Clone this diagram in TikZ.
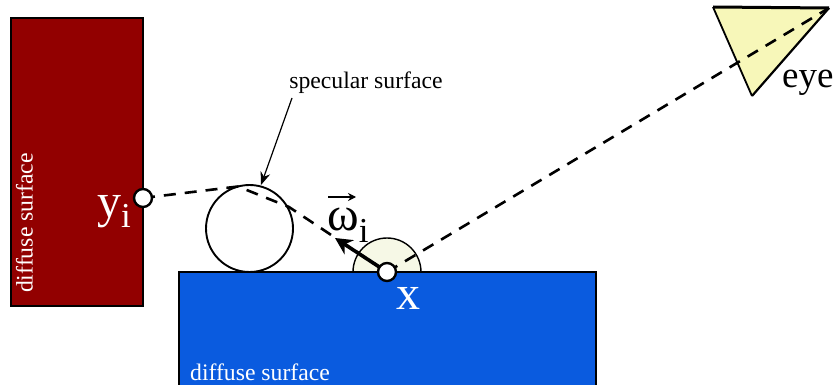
\documentclass[tikz,border=0pt]{standalone}
\usepackage{fontspec}
\setmainfont{Liberation Serif}
\usetikzlibrary{arrows.meta}
\definecolor{wallred}{HTML}{920000}
\definecolor{floorblue}{HTML}{0A5BDF}
\definecolor{eyeyellow}{HTML}{F7F7B9}
\definecolor{domeyellow}{HTML}{F6F8E6}
\tikzset{
  px/.style={x=1pt,y=-1pt},
  surface/.style={draw=black,line width=2.4pt,outer sep=0pt,inner sep=0pt},
  ray/.style={draw=black,line width=2.6pt,dash pattern=on 12pt off 9pt},
  pointmark/.style={circle,draw=black,fill=white,line width=2.4pt,minimum size=18pt,inner sep=0pt},
  whitelabel/.style={text=white,inner sep=0pt},
  blacklabel/.style={text=black,inner sep=0pt},
  smallfont/.style={font=\fontsize{23.7}{26}\selectfont},
  bigfont/.style={font=\fontsize{48}{52}\selectfont}
}
\begin{document}
\begin{tikzpicture}[px]
\useasboundingbox (0,0) rectangle (836,385);
\clip (0,0) rectangle (836,385);
\fill[white] (0,0) rectangle (836,385);
% surfaces
\node[surface,fill=wallred,minimum width=132pt,minimum height=288pt,anchor=north west] (wall) at (11,18) {};
\node[surface,fill=floorblue,minimum width=417pt,minimum height=130pt,anchor=north west] (floor) at (179,272) {};
% hemisphere
\fill[domeyellow] (353,272) arc[start angle=180,end angle=360,radius=34] -- cycle;
\draw[line width=1.4pt] (353,272) arc[start angle=180,end angle=360,radius=34];
\draw[surface] (179,272) -- (596,272);
% sphere
\node[circle,draw=black,fill=white,line width=1.9pt,minimum size=87pt,inner sep=0pt] (sphere) at (249.5,228.5) {};
% eye
\coordinate (eyeA) at (713,7);
\coordinate (eyeB) at (829,8);
\coordinate (eyeC) at (752,96);
\fill[eyeyellow] (eyeA) -- (eyeB) -- (eyeC) -- cycle;
\draw[line width=1.8pt] (eyeC) -- (eyeA);
\draw[line width=2.2pt] (eyeB) -- (eyeC);
\draw[line width=3pt] (eyeA) -- (eyeB);
% rays
\coordinate (kinkA) at (238,186.5);
\coordinate (kinkB) at (289,207);
\coordinate (eyeTip) at (829,8);
\coordinate (yiC) at (143,198);
\coordinate (xC) at (387,272);
\draw[ray] (yiC) -- (kinkA) -- (kinkB) -- (xC);
\draw[ray] (xC) -- (eyeTip);
% direction arrow
\coordinate (omegaEnd) at (335,238);
\draw[line width=3.6pt,-{Stealth[length=17pt,width=17pt]}] (xC) -- (omegaEnd);
% points
\node[pointmark] (yi) at (yiC) {};
\node[pointmark] (x) at (xC) {};
% labels
\node[whitelabel,smallfont,rotate=90,anchor=base] (wallText) at (32.5,223) {diffuse surface};
\node[whitelabel,smallfont,anchor=base west] (floorText) at (190,380) {diffuse surface};
\node[blacklabel,smallfont] (specText) at (366,83) {specular surface};
\node[whitelabel,bigfont,anchor=base west] (yiText) at (97,218) {y\raisebox{-10pt}{\fontsize{35}{38}\selectfont i}};
\node[whitelabel,bigfont,anchor=base west] (xText) at (396,309) {x};
\node[blacklabel,font=\fontsize{37}{40}\selectfont,anchor=base west] (eyeText) at (782,88) {eye};
\node[blacklabel,bigfont,anchor=base west] (omegaText) at (327,230) {ω\raisebox{-12pt}{\fontsize{35}{38}\selectfont i}};
\coordinate (omegaBarL) at (328,197);
\coordinate (omegaBarR) at (356,197);
\draw[line width=1.1pt,-{Stealth[length=8pt,width=8pt]}] (omegaBarL) -- (omegaBarR);
% leader
\coordinate (leadStart) at (292,98);
\coordinate (leadEnd) at (261,185);
\draw[line width=1.2pt,-{Stealth[length=13pt,width=10pt]}] (leadStart) -- (leadEnd);
\end{tikzpicture}
\end{document}
